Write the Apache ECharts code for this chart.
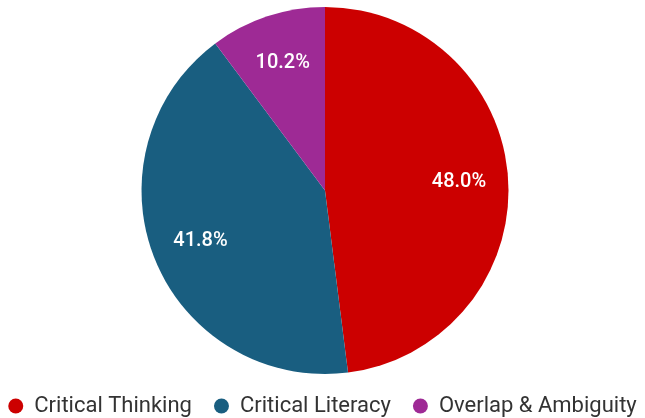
<!DOCTYPE html>
<html><head><meta charset="utf-8">
<script src="https://cdn.jsdelivr.net/npm/echarts@6/dist/echarts.min.js"></script>
<style>html,body{margin:0;padding:0;background:#fff}#c{width:645px;height:418px}</style>
</head><body><div id="c"></div>
<script>
const categories = ["Critical Thinking", "Critical Literacy", "Overlap & Ambiguity"];
const values = [48.0, 41.8, 10.2];
const colors = ["#cc0000", "#195e80", "#9e2a95"];

const chart = echarts.init(document.getElementById('c'), null, {renderer: 'canvas'});
const data = categories.map((n, i) => ({name: n, value: values[i], itemStyle: {color: colors[i]}}));
chart.setOption({
  animation: false,
  legend: {
    data: categories,
    top: 390,
    left: 'center',
    icon: 'circle',
    itemWidth: 15,
    itemHeight: 15,
    itemGap: 22,
    textStyle: {fontFamily: 'Roboto', fontSize: 22, color: '#333', padding: [0, 0, 0, 6]}
  },
  series: [{
    type: 'pie',
    center: [325, 190.5],
    radius: [0, 183.5],
    startAngle: 90,
    clockwise: true,
    label: {show: false},
    labelLine: {show: false},
    silent: true,
    data: data
  }, {
    type: 'pie',
    center: [325, 190.5],
    radius: [79, 183.5],
    startAngle: 90,
    clockwise: true,
    silent: true,
    legendHoverLink: false,
    itemStyle: {color: 'rgba(0,0,0,0)'},
    label: {
      show: true,
      position: 'inside',
      color: '#fff',
      fontFamily: 'Roboto',
      fontSize: 20,
      fontWeight: 500,
      formatter: p => p.value.toFixed(1) + '%'
    },
    labelLine: {show: false},
    data: categories.map((n, i) => ({name: n, value: values[i]}))
  }]
});
</script></body></html>
